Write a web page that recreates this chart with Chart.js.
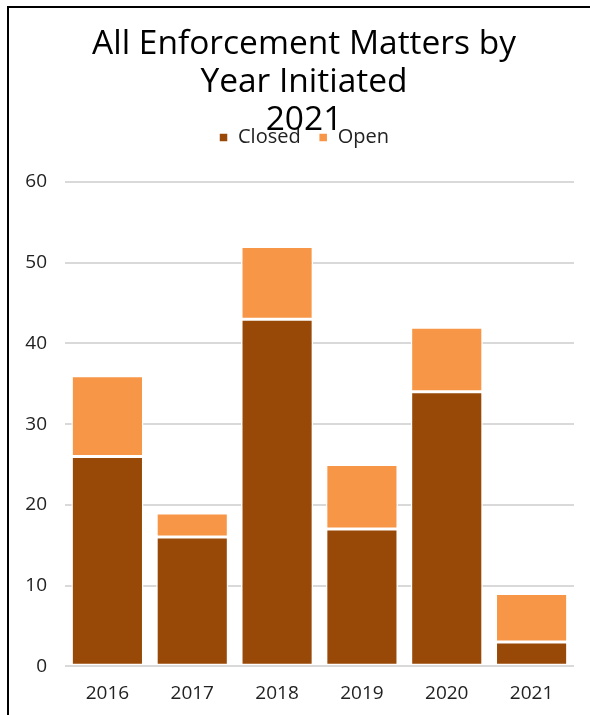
<!DOCTYPE html>
<html>
<head>
<meta charset="utf-8">
<script src="https://cdn.jsdelivr.net/npm/chart.js@4"></script>
<style>
  html, body { margin: 0; padding: 0; background: #fff; }
  #frame { position: absolute; left: 7px; top: 6px; width: 640px; height: 760px; border: 2px solid #000; }
  #c { position: absolute; left: 0; top: 0; }
</style>
</head>
<body>
<div id="frame"></div>
<canvas id="c" width="590" height="715"></canvas>
<script>
const years = ["2016", "2017", "2018", "2019", "2020", "2021"];
const closed = [26, 16, 43, 17, 34, 3];
const open = [10, 3, 9, 8, 8, 6];
const titleLines = ["All Enforcement Matters by", "Year Initiated", "2021"];

const ctx = document.getElementById("c");
const tickFont = { family: "Open Sans", size: 19 };

new Chart(ctx, {
    type: "bar",
    data: {
        labels: years,
        datasets: [{
            label: "Closed",
            data: closed,
            backgroundColor: "#984807",
            borderColor: "#ffffff",
            borderWidth: 1.5,
            borderSkipped: false
        }, {
            label: "Open",
            data: open,
            backgroundColor: "#F79646",
            borderColor: "#ffffff",
            borderWidth: 1.5,
            borderSkipped: false
        }]
    },
    options: {
        responsive: false,
        animation: false,
        layout: { padding: { left: 20, right: 2, top: 26, bottom: -6 } },
        datasets: { bar: { categoryPercentage: 1, barPercentage: 0.85 } },
        plugins: {
            title: {
                display: true,
                text: titleLines,
                color: "#000",
                font: { family: "Open Sans", size: 33.5, weight: "normal", lineHeight: 1.13 },
                padding: { top: 0, bottom: -30 }
            },
            // empty subtitle used as a gap between legend and plot
            subtitle: {
                display: true,
                text: "",
                weight: 500,
                font: { size: 1, lineHeight: 1 },
                padding: { top: 23.5, bottom: 0 }
            },
            legend: {
                position: "top",
                labels: {
                    color: "#222",
                    font: { family: "Open Sans", size: 20 },
                    boxWidth: 9,
                    boxHeight: 9,
                    padding: 18
                }
            },
            tooltip: { enabled: false }
        },
        scales: {
            x: {
                stacked: true,
                grid: { display: false, drawTicks: false },
                border: { display: false },
                ticks: { color: "#222", font: tickFont, padding: 16 }
            },
            y: {
                stacked: true,
                min: 0,
                max: 60,
                border: { display: false },
                grid: { color: "#d9d9d9", lineWidth: 2, drawTicks: false },
                ticks: { stepSize: 10, color: "#222", font: tickFont, padding: 18 },
                afterFit: (scale) => { scale.width = 45; }
            },
            // blank right axis, only keeps the plot off the right edge
            yRight: {
                type: "linear",
                position: "right",
                display: true,
                grid: { display: false },
                border: { display: false },
                ticks: { display: false },
                afterFit: (scale) => { scale.width = 14; }
            }
        }
    }
});
</script>
</body>
</html>
